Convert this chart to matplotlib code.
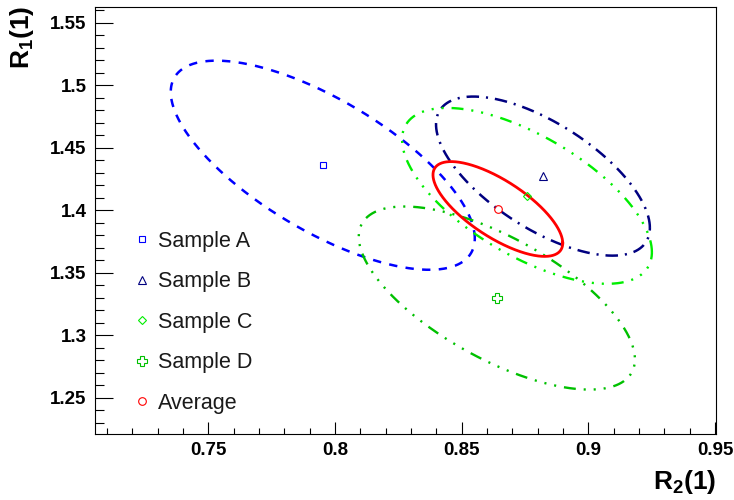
import numpy as np
import matplotlib
matplotlib.use("Agg")
import matplotlib.pyplot as plt
from matplotlib.ticker import MultipleLocator

plt.rcParams["font.family"] = ["Liberation Sans", "DejaVu Sans"]
plt.rcParams["lines.scale_dashes"] = False
plt.rcParams["mathtext.fontset"] = "custom"
plt.rcParams["mathtext.rm"] = "Liberation Sans"
plt.rcParams["mathtext.bf"] = "Liberation Sans:bold"

# Central values and 1-sigma correlated uncertainties for each measurement
labels = ["Sample A", "Sample B", "Sample C", "Sample D", "Average"]
r2_center = [0.7952, 0.8821, 0.8758, 0.8639, 0.8643]
r1_center = [1.4359, 1.4272, 1.4114, 1.3297, 1.4009]
r2_sigma = [0.0600, 0.0422, 0.0493, 0.0545, 0.0256]
r1_sigma = [0.0836, 0.0636, 0.0703, 0.0732, 0.0379]
correlation = [-0.70, -0.65, -0.64, -0.67, -0.72]

colors = ["#0000ff", "#000080", "#00ee00", "#00c000", "#ff0000"]
markers = ["s", "^", "D", "P", "o"]
marker_sizes = [5, 5.5, 4, 7, 5.5]
line_widths = [1.8, 1.8, 1.7, 1.7, 2.0]
line_styles = [
    (0, (6, 6)),
    (0, (9, 5, 1.5, 5)),
    (0, (8.6, 5.7, 1.5, 5.7, 1.5, 5.7, 1.5, 5.7)),
    (20, (8.6, 5.7, 1.5, 5.7, 1.5, 5.7, 1.5, 5.7)),
    "-",
]

fig = plt.figure(figsize=(7.34, 5.0), dpi=100)
ax = fig.add_axes([95 / 734, 1 - 434 / 500, (716 - 95) / 734, (434 - 7) / 500])

t = np.linspace(0, 2 * np.pi, 721)
for i in range(len(labels)):
    rho = correlation[i]
    ex = r2_center[i] + r2_sigma[i] * np.cos(t)
    ey = r1_center[i] + r1_sigma[i] * (rho * np.cos(t) + np.sqrt(1 - rho ** 2) * np.sin(t))
    ax.plot(ex, ey, color=colors[i], lw=line_widths[i], ls=line_styles[i],
            dash_capstyle="butt", zorder=2 + (i == 4))

handles = []
for i in range(len(labels)):
    h, = ax.plot([r2_center[i]], [r1_center[i]], ls="none", marker=markers[i],
                 ms=marker_sizes[i], mfc="none", mec=colors[i], mew=0.8, zorder=5)
    handles.append(h)

ax.set_xlim(0.7053, 0.9504)
ax.set_ylim(1.2210, 1.5624)

ax.xaxis.set_major_locator(MultipleLocator(0.05))
ax.xaxis.set_minor_locator(MultipleLocator(0.01))
ax.yaxis.set_major_locator(MultipleLocator(0.05))
ax.yaxis.set_minor_locator(MultipleLocator(0.01))
ax.xaxis.set_major_formatter(plt.FuncFormatter(lambda v, p: f"{v:g}"))
ax.yaxis.set_major_formatter(plt.FuncFormatter(lambda v, p: f"{v:g}"))

ax.tick_params(axis="x", which="major", direction="in", length=9, width=0.8, pad=6,
               labelsize=13.5, top=False)
ax.tick_params(axis="x", which="minor", direction="in", length=4.5, width=0.8, top=False)
ax.tick_params(axis="y", which="major", direction="in", length=13, width=0.8, pad=6,
               labelsize=13.5, right=False)
ax.tick_params(axis="y", which="minor", direction="in", length=6.5, width=0.8, right=False)
for lab in ax.get_xticklabels() + ax.get_yticklabels():
    lab.set_fontweight("bold")
for s in ax.spines.values():
    s.set_linewidth(0.8)

fig.text(716 / 734, 1 - 482 / 500, r"$\mathbf{R_{2}(1)}$", ha="right", va="center",
         fontsize=19)
fig.text(22 / 734, 1 - 6 / 500, r"$\mathbf{R_{1}(1)}$", ha="center", va="top",
         rotation=90, fontsize=19)

leg = ax.legend(handles, labels, loc="upper left", frameon=False,
                bbox_to_anchor=(131 / 734, 1 - 231 / 500), bbox_transform=fig.transFigure,
                borderpad=0, borderaxespad=0, handlelength=1.0, handletextpad=0.25,
                labelspacing=0.90, prop={"size": 15.5})
for txt in leg.get_texts():
    txt.set_color("#1a1a1a")

fig.savefig("out.png", dpi=100)
